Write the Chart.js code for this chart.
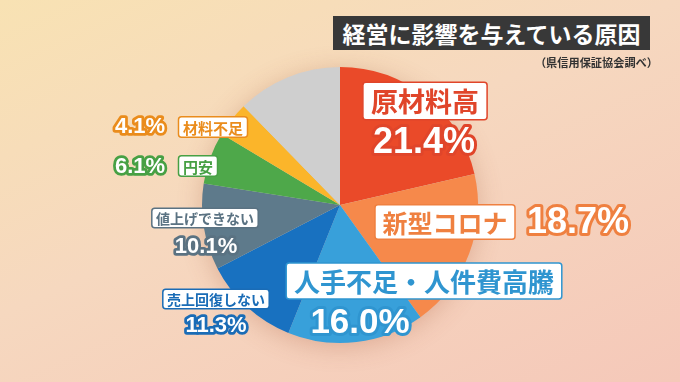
<!DOCTYPE html>
<html>
<head>
<meta charset="utf-8">
<script src="https://cdn.jsdelivr.net/npm/chart.js@4"></script>
<style>
  html, body { margin: 0; padding: 0; }
  #wrap {
    position: relative; width: 680px; height: 382px; overflow: hidden;
    background: linear-gradient(155deg, #f8e2b3 0%, #f6d8bf 45%, #f5c8b9 100%);
    font-family: "Noto Sans CJK JP", sans-serif;
  }
  #title {
    position: absolute; left: 333px; top: 16px; width: 317px; height: 34px;
    background: #383838; color: #fff; font-size: 23px; font-weight: bold;
    line-height: 34px; text-align: center;
  }
  #source {
    position: absolute; right: 22px; top: 54px; font-size: 11.2px; font-weight: bold;
    color: #333;
  }
  canvas { position: absolute; left: 0; top: 0; }
</style>
</head>
<body>
<div id="wrap">
  <canvas id="myChart" width="680" height="382"></canvas>
  <div id="title">経営に影響を与えている原因</div>
  <div id="source">（県信用保証協会調べ）</div>
</div>
<script>
// data
const categories = ['原材料高', '新型コロナ', '人手不足・人件費高騰', '売上回復しない', '値上げできない', '円安', '材料不足', 'その他'];
const shares = [21.4, 18.7, 16.0, 11.3, 10.1, 6.1, 4.1, 12.3];
const sliceColors = ['#ea4a29', '#f6894b', '#38a0da', '#1871c0', '#5e7a8b', '#4ea84a', '#fbb52a', '#cfcfcf'];
const textColors = ['#e0452a', '#ef8040', '#2f95d0', '#1a6cb6', '#5a7282', '#47a044', '#ea8c1c'];

// label layout, offsets from the pie centre (px)
const labelSpots = [
    { bx: 85, by: -104, bs: 27, px: 84, py: -62, ps: 36 },
    { bx: 105, by: 17, bs: 25, px: 238, py: 18, ps: 36 },
    { bx: 84, by: 76, bs: 26, px: 20, py: 118, ps: 35 },
    { bx: -124, by: 94, bs: 14, px: -124, py: 121, ps: 22 },
    { bx: -135, by: 13, bs: 14, px: -134, py: 42, ps: 22 },
    { bx: -142, by: -39, bs: 15, px: -200, py: -38, ps: 22 },
    { bx: -127, by: -78, bs: 15, px: -200, py: -78, ps: 22 }
];

function roundRect(ctx, x, y, w, h, r) {
    ctx.beginPath();
    ctx.moveTo(x + r, y);
    ctx.arcTo(x + w, y, x + w, y + h, r);
    ctx.arcTo(x + w, y + h, x, y + h, r);
    ctx.arcTo(x, y + h, x, y, r);
    ctx.arcTo(x, y, x + w, y, r);
    ctx.closePath();
}

const shadowPlugin = {
    id: 'pieShadow',
    beforeDatasetsDraw(chart) {
        const arc = chart.getDatasetMeta(0).data[0];
        const ctx = chart.ctx;
        ctx.save();
        ctx.shadowColor = 'rgba(160, 80, 50, 0.3)';
        ctx.shadowBlur = 26;
        ctx.shadowOffsetY = 4;
        ctx.fillStyle = '#cfcfcf';
        ctx.beginPath();
        ctx.arc(arc.x, arc.y, arc.outerRadius - 1, 0, Math.PI * 2);
        ctx.fill();
        ctx.restore();
    }
};

const labelPlugin = {
    id: 'sliceLabels',
    afterDatasetsDraw(chart) {
        const arc = chart.getDatasetMeta(0).data[0];
        const cx = arc.x, cy = arc.y;
        const ctx = chart.ctx;
        ctx.save();
        ctx.textAlign = 'center';
        ctx.textBaseline = 'middle';
        labelSpots.forEach((s, i) => {
            const col = textColors[i];
            // name box
            ctx.font = `bold ${s.bs}px "Noto Sans CJK JP"`;
            const tw = ctx.measureText(categories[i]).width;
            const padX = s.bs * 0.3, h = s.bs * 1.38;
            const x = cx + s.bx, y = cy + s.by;
            roundRect(ctx, x - tw / 2 - padX, y - h / 2, tw + padX * 2, h, 3);
            ctx.fillStyle = '#ffffff';
            ctx.fill();
            ctx.lineWidth = 1.5;
            ctx.strokeStyle = col;
            ctx.stroke();
            ctx.fillStyle = col;
            ctx.fillText(categories[i], x, y + 1);
            // percentage, white with coloured outline
            const pct = shares[i].toFixed(1) + '%';
            ctx.font = `bold ${s.ps}px "Liberation Sans", Arial`;
            ctx.lineJoin = 'round';
            ctx.lineWidth = s.ps > 30 ? 6 : 5.5;
            ctx.strokeStyle = col;
            ctx.strokeText(pct, cx + s.px, cy + s.py);
            ctx.fillStyle = '#ffffff';
            ctx.fillText(pct, cx + s.px, cy + s.py);
        });
        ctx.restore();
    }
};

new Chart(document.getElementById('myChart'), {
    type: 'pie',
    data: {
        labels: categories,
        datasets: [{
            data: shares,
            backgroundColor: sliceColors,
            borderWidth: 0
        }]
    },
    options: {
        responsive: false,
        animation: false,
        layout: { padding: { top: 67, bottom: 39, left: 0, right: 0 } },
        plugins: {
            legend: { display: false },
            tooltip: { enabled: false }
        }
    },
    plugins: [shadowPlugin, labelPlugin]
});
</script>
</body>
</html>
